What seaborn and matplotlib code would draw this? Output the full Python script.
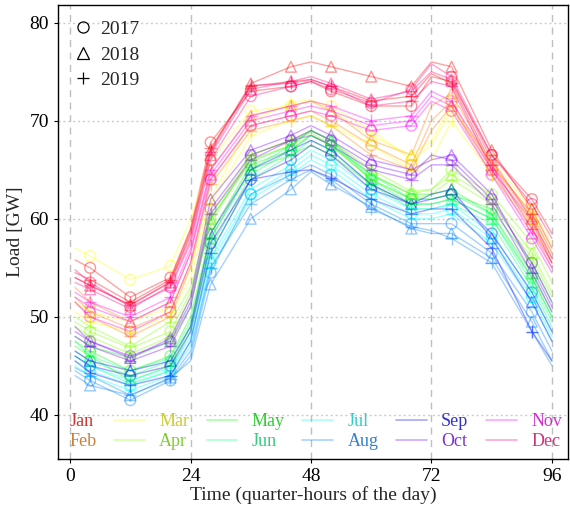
import matplotlib
matplotlib.use("Agg")
import matplotlib.pyplot as plt
from matplotlib.lines import Line2D
import pandas as pd
import seaborn as sns

# sample points (quarter-hour index) of each daily load curve, values in GW
quarter_hours = [1, 4, 12, 20, 24, 28, 36, 44, 48, 52, 60, 68, 72, 76, 84, 92, 96]
marker_hours = [4, 12, 20, 28, 36, 44, 52, 60, 68, 76, 84, 92]
months = ["Jan", "Feb", "Mar", "Apr", "May", "Jun",
          "Jul", "Aug", "Sep", "Oct", "Nov", "Dec"]
years = [2017, 2018, 2019]
year_markers = ["o", "^", "+"]

# one row per year: 2017, 2018, 2019
jan = [[55.8, 55.0, 52.0, 54.0, 59.0, 67.8, 73.0, 73.5, 74.0, 73.0, 71.5, 71.5, 74.5, 74.0, 66.5, 62.0, 58.5],
       [54.0, 53.2, 51.2, 53.5, 58.5, 67.0, 73.8, 75.5, 76.0, 75.5, 74.5, 73.5, 76.0, 75.5, 67.0, 61.0, 57.0],
       [54.5, 53.8, 51.5, 53.8, 58.8, 67.2, 73.5, 74.0, 74.2, 73.5, 72.0, 72.5, 74.8, 73.8, 65.5, 60.5, 56.5]]
feb = [[52.0, 50.5, 48.8, 50.5, 55.5, 64.0, 69.5, 70.5, 71.0, 70.0, 67.5, 65.5, 70.0, 72.0, 65.0, 59.5, 55.5],
       [53.0, 51.5, 49.5, 51.5, 56.5, 65.0, 70.5, 71.5, 72.0, 71.0, 68.0, 66.5, 71.5, 72.8, 65.5, 60.0, 56.0],
       [51.5, 50.0, 48.0, 50.0, 55.0, 63.5, 69.0, 70.0, 70.5, 69.5, 66.5, 65.0, 69.0, 71.5, 64.5, 59.0, 55.0]]
mar = [[57.0, 56.2, 53.8, 55.2, 60.0, 66.0, 71.0, 71.5, 72.0, 71.5, 69.0, 66.0, 67.5, 71.0, 66.0, 61.0, 57.5],
       [51.5, 50.5, 49.5, 51.0, 55.0, 62.0, 70.0, 71.8, 72.2, 71.0, 68.5, 66.5, 68.0, 71.5, 65.5, 60.5, 56.5],
       [50.5, 49.5, 48.5, 50.2, 54.0, 61.5, 68.5, 70.0, 70.5, 69.5, 67.5, 65.0, 66.0, 70.0, 64.5, 59.5, 55.5]]
apr = [[49.5, 48.5, 46.8, 48.5, 52.5, 60.0, 66.0, 67.5, 68.5, 67.5, 64.5, 62.5, 63.0, 65.0, 62.5, 57.5, 53.5],
       [49.0, 48.0, 46.2, 48.0, 52.0, 59.5, 66.5, 68.0, 69.0, 68.0, 65.0, 62.8, 63.0, 64.5, 62.0, 56.5, 52.5],
       [50.0, 49.0, 47.0, 49.5, 53.0, 60.5, 66.5, 68.0, 68.8, 67.5, 64.0, 62.0, 62.5, 64.0, 61.5, 56.0, 52.0]]
may = [[47.5, 46.5, 44.5, 46.0, 50.0, 58.5, 65.5, 67.0, 68.5, 67.5, 64.0, 62.0, 62.0, 62.5, 61.0, 55.5, 51.5],
       [48.0, 47.0, 45.8, 47.5, 51.0, 60.0, 65.8, 67.5, 69.0, 68.0, 64.5, 62.5, 62.5, 63.0, 60.5, 54.5, 50.5],
       [47.0, 46.0, 43.5, 45.0, 49.0, 58.0, 65.0, 66.5, 67.5, 66.5, 63.5, 61.5, 61.5, 62.0, 60.0, 54.0, 50.0]]
jun = [[46.5, 45.5, 44.0, 45.5, 49.0, 57.0, 64.5, 67.0, 68.5, 67.5, 64.5, 62.0, 62.0, 62.5, 60.5, 54.0, 50.0],
       [47.5, 46.0, 44.5, 45.8, 49.5, 58.0, 65.0, 67.5, 69.0, 68.0, 64.0, 61.5, 61.5, 62.0, 60.0, 53.5, 49.5],
       [46.0, 45.0, 43.2, 44.5, 48.5, 56.5, 64.0, 66.5, 68.0, 67.0, 63.5, 61.0, 61.0, 61.5, 59.5, 53.0, 49.0]]
jul = [[45.5, 44.5, 43.0, 44.5, 47.5, 55.5, 62.5, 65.0, 66.5, 65.5, 62.5, 60.5, 60.5, 61.0, 58.0, 52.0, 48.0],
       [46.0, 45.0, 43.5, 44.8, 48.0, 56.0, 63.0, 65.5, 67.0, 66.0, 63.0, 61.0, 61.0, 61.5, 58.5, 52.5, 48.5],
       [45.0, 44.0, 42.5, 44.0, 47.0, 55.0, 62.0, 64.5, 66.0, 65.0, 62.0, 60.0, 60.0, 60.5, 57.5, 51.5, 47.5]]
aug = [[44.5, 43.5, 41.5, 43.5, 46.0, 54.5, 62.5, 64.5, 65.5, 64.5, 61.5, 59.5, 59.5, 59.5, 56.5, 50.5, 46.5],
       [44.0, 43.0, 42.0, 43.8, 45.5, 53.3, 60.0, 63.0, 64.8, 63.5, 61.2, 59.0, 58.5, 58.5, 56.0, 49.5, 45.5],
       [44.8, 44.0, 42.0, 43.7, 46.5, 55.0, 61.5, 64.0, 65.0, 64.0, 61.0, 59.2, 58.8, 58.0, 55.5, 48.5, 45.0]]
sep = [[46.0, 45.0, 44.0, 45.0, 48.5, 57.5, 64.0, 66.0, 67.5, 66.5, 63.0, 61.5, 62.0, 62.5, 58.5, 52.5, 48.5],
       [46.5, 45.5, 44.5, 45.5, 49.0, 58.5, 65.0, 67.0, 68.0, 67.0, 63.5, 61.5, 62.5, 63.0, 58.0, 51.5, 47.5],
       [45.5, 44.3, 43.0, 44.0, 47.5, 56.5, 64.0, 64.8, 65.0, 64.2, 62.0, 60.5, 61.0, 61.0, 57.0, 48.5, 45.5]]
oct_ = [[48.5, 47.5, 46.0, 47.5, 51.5, 61.0, 66.5, 68.0, 69.0, 68.0, 65.5, 64.5, 66.5, 66.0, 62.0, 55.5, 51.5],
        [49.0, 47.5, 45.8, 47.8, 52.0, 62.0, 67.0, 68.5, 69.5, 68.5, 66.0, 65.0, 66.0, 66.5, 62.5, 55.0, 51.0],
        [48.0, 47.0, 45.5, 47.0, 51.0, 60.5, 66.0, 68.0, 68.5, 67.5, 65.0, 64.0, 65.5, 65.5, 61.5, 54.5, 50.5]]
nov = [[51.5, 50.0, 48.5, 50.5, 55.5, 64.0, 69.5, 70.5, 71.0, 70.5, 69.0, 69.5, 72.0, 71.0, 64.5, 58.0, 54.5],
       [52.0, 51.0, 49.5, 51.5, 56.5, 64.5, 70.0, 71.0, 71.5, 71.0, 69.5, 70.0, 72.5, 71.5, 65.0, 58.5, 55.0],
       [52.5, 51.5, 50.0, 52.0, 57.0, 65.0, 70.5, 71.5, 72.0, 71.5, 70.0, 70.5, 73.0, 72.0, 65.5, 59.0, 55.5]]
dec = [[54.8, 53.5, 51.0, 53.0, 57.5, 66.0, 72.5, 73.5, 74.0, 73.2, 71.8, 73.2, 75.8, 74.5, 66.5, 61.5, 58.0],
       [53.5, 52.8, 50.8, 53.2, 57.8, 66.5, 73.2, 74.0, 74.5, 73.8, 72.2, 73.0, 75.0, 74.2, 66.0, 60.0, 56.0],
       [54.0, 53.2, 51.2, 53.6, 58.2, 66.8, 73.6, 73.8, 74.2, 73.5, 71.5, 72.0, 74.0, 73.5, 65.0, 59.8, 55.5]]

load_by_month = [jan, feb, mar, apr, may, jun, jul, aug, sep, oct_, nov, dec]

rows = []
for month, series in zip(months, load_by_month):
    for year, values in zip(years, series):
        for q, v in zip(quarter_hours, values):
            rows.append((month, year, q, v))
df = pd.DataFrame(rows, columns=["month", "year", "qh", "load"])

line_colors = sns.hls_palette(12, h=0.0, l=0.5, s=1.0)
text_colors = sns.hls_palette(12, h=0.0, l=0.5, s=0.6)
palette = dict(zip(months, line_colors))

sns.set_theme(style="ticks")
plt.rcParams["font.family"] = ["Liberation Serif", "DejaVu Serif"]

fig, ax = plt.subplots(figsize=(5.7, 5.11), dpi=100)
fig.subplots_adjust(left=58 / 570, right=568 / 570, bottom=1 - 459 / 511, top=1 - 5 / 511)

sns.lineplot(data=df, x="qh", y="load", hue="month", units="year", estimator=None,
             palette=palette, alpha=0.36, linewidth=1.0, legend=False, ax=ax)

for year, m in zip(years, year_markers):
    sub = df[(df["year"] == year) & df["qh"].isin(marker_hours)]
    sns.scatterplot(data=sub, x="qh", y="load", hue="month", palette=palette,
                    marker=m, s=80 if m == "+" else 60, alpha=0.42, legend=False, ax=ax)
    coll = ax.collections[-1]
    coll.set_edgecolors(coll.get_facecolors())
    coll.set_facecolors("none")
    coll.set_linewidths(1.0)

ax.set_xlim(-2.4, 99.2)
ax.set_ylim(35.5, 81.8)
ax.set_xticks([0, 24, 48, 72, 96])
ax.set_yticks([40, 50, 60, 70, 80])
ax.grid(axis="x", color="0.75", linestyle=(0, (5, 4)), linewidth=1.0)
ax.grid(axis="y", color="0.8", linestyle=(0, (1.5, 2)), linewidth=1.0)
ax.set_axisbelow(True)
for side in ax.spines.values():
    side.set_color("black")
    side.set_linewidth(1.0)
ax.tick_params(direction="out", length=3, width=0.8, color="black", labelsize=14, labelcolor="black")
ax.set_xlabel("Time (quarter-hours of the day)", fontsize=14, labelpad=1)
ax.set_ylabel("Load [GW]", fontsize=14, labelpad=4)

year_handles = [Line2D([], [], marker=m, color="black", markerfacecolor="none",
                       linestyle="none", markersize=8, markeredgewidth=0.9)
                for m in year_markers]
leg_years = ax.legend(year_handles, [str(y) for y in years], loc="upper left",
                      frameon=False, fontsize=14, handlelength=1.0, handletextpad=0.35,
                      labelspacing=0.4, borderaxespad=0.4)
ax.add_artist(leg_years)

month_handles = []
for i, c in enumerate(line_colors):
    col = "none" if i < 2 else c
    month_handles.append(Line2D([], [], color=col, alpha=0.35, linewidth=1.2))
leg_months = ax.legend(month_handles, months, ncol=6, loc="lower left",
                       bbox_to_anchor=(-0.098, -0.016), frameon=False, fontsize=13,
                       handlelength=1.7, handletextpad=0.8, columnspacing=0.97,
                       labelspacing=0.15)
for txt, c in zip(leg_months.get_texts(), text_colors):
    txt.set_color(c)

fig.savefig("out.png", dpi=100)
